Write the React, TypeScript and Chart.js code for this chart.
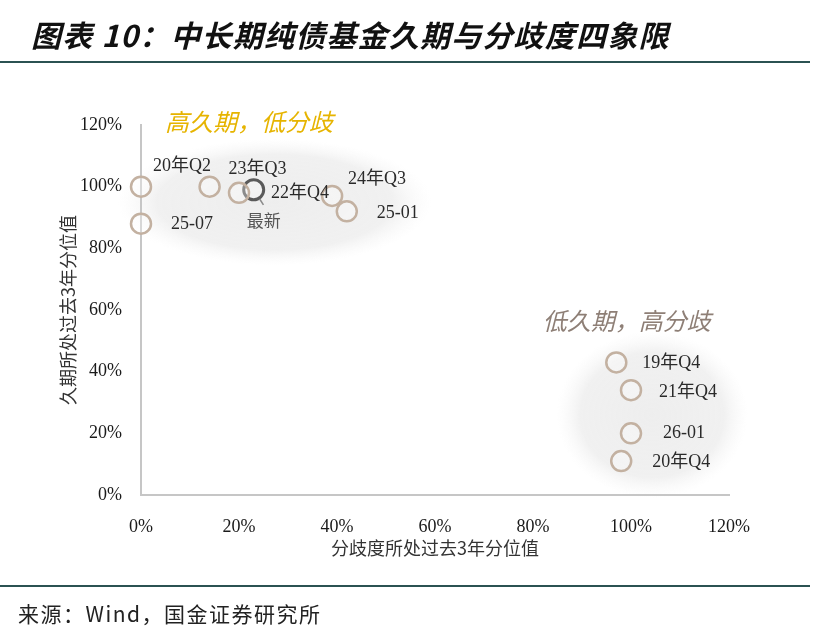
import React, { useEffect, useRef } from "react";
import { Chart, registerables } from "chart.js";

Chart.register(...registerables);

// 分歧度所处过去3年分位值 (x) / 久期所处过去3年分位值 (y), in %
const dispersionPct = [0, 14, 20, 39, 42, 0, 97, 100, 100, 98];
const durationPct = [100, 100, 98, 97, 92, 88, 43, 34, 20, 11];
const periodLabels = ["20年Q2", "23年Q3", "22年Q4", "24年Q3", "25-01", "25-07", "19年Q4", "21年Q4", "26-01", "20年Q4"];

const latestDispersion = [23];
const latestDuration = [99];
const latestLabels = ["最新"];

const tickValues = [0, 20, 40, 60, 80, 100, 120];

const quadrantTitles = ["高久期，低分歧", "低久期，高分歧"];

// label offsets in px from each marker (style only)
const labelOffsets = [
  [41, -20], [48, -17], [61, 0], [45, -17], [51, 2],
  [51, 1], [55, 1], [57, 2], [53, 0], [60, 1],
];
const latestOffsets = [[10, 31]];

// shaded zones, in axis units
const zones = [
  { cx: 27.3, cy: 95, rx: 32, ry: 20.5, tx: 4.9, ty: 121, color: "#e6b400" },
  { cx: 104.3, cy: 26, rx: 19.5, ry: 27, tx: 82, ty: 56.5, color: "#8e7f76" },
];

const SERIF = '"Liberation Serif", "Noto Sans CJK SC", serif';
const CJK = '"Noto Sans CJK SC", sans-serif';

const quadrantPlugin = {
  id: "quadrants",
  beforeDraw(chart: any) {
    const { ctx, scales } = chart;
    const x = scales.x;
    const y = scales.y;
    zones.forEach((z) => {
      const cx = x.getPixelForValue(z.cx);
      const cy = y.getPixelForValue(z.cy);
      const rx = Math.abs(x.getPixelForValue(z.cx + z.rx) - cx);
      const ry = Math.abs(y.getPixelForValue(z.cy + z.ry) - cy);
      ctx.save();
      ctx.translate(cx, cy);
      ctx.scale(rx, ry);
      const g = ctx.createRadialGradient(0, 0, 0, 0, 0, 1);
      g.addColorStop(0, "rgba(236,236,236,0.9)");
      g.addColorStop(0.75, "rgba(238,238,238,0.85)");
      g.addColorStop(1, "rgba(246,246,246,0)");
      ctx.fillStyle = g;
      ctx.beginPath();
      ctx.arc(0, 0, 1, 0, Math.PI * 2);
      ctx.fill();
      ctx.restore();
    });
  },
  afterDatasetsDraw(chart: any) {
    const { ctx, scales } = chart;
    ctx.save();
    ctx.textAlign = "center";
    ctx.textBaseline = "middle";
    ctx.font = `18px ${SERIF}`;
    ctx.fillStyle = "#2a2a2a";
    chart.getDatasetMeta(0).data.forEach((pt: any, i: number) => {
      const [dx, dy] = labelOffsets[i];
      ctx.fillText(periodLabels[i], pt.x + dx, pt.y + dy);
    });
    chart.getDatasetMeta(1).data.forEach((pt: any, i: number) => {
      const [dx, dy] = latestOffsets[i];
      ctx.font = `17px ${CJK}`;
      ctx.fillStyle = "#555";
      ctx.fillText(latestLabels[i], pt.x + dx, pt.y + dy);
      // little pointer tail
      const a = Math.atan2(14, 9);
      ctx.strokeStyle = "#8a8a8a";
      ctx.lineWidth = 1.5;
      ctx.beginPath();
      ctx.moveTo(pt.x + Math.cos(a) * 11, pt.y + Math.sin(a) * 11);
      ctx.lineTo(pt.x + Math.cos(a) * 18, pt.y + Math.sin(a) * 18);
      ctx.stroke();
    });
    ctx.textAlign = "left";
    ctx.font = `italic 24px ${CJK}`;
    zones.forEach((z, i) => {
      ctx.fillStyle = z.color;
      ctx.fillText(quadrantTitles[i], scales.x.getPixelForValue(z.tx), scales.y.getPixelForValue(z.ty));
    });
    ctx.restore();
  },
};

const QuadrantChart: React.FC = () => {
  const chartRef = useRef<HTMLCanvasElement | null>(null);
  const chartInstance = useRef<Chart | null>(null);

  useEffect(() => {
    if (!chartRef.current) return;
    const ctx = chartRef.current.getContext("2d");
    if (!ctx) return;

    const setTicks = (s: any) => {
      s.ticks = tickValues.map((v) => ({ value: v }));
    };

    chartInstance.current = new Chart(ctx, {
      type: "scatter",
      data: {
        datasets: [
          {
            label: "历史",
            data: dispersionPct.map((v, i) => ({ x: v, y: durationPct[i] })),
            pointRadius: 10,
            pointBorderWidth: 2.5,
            pointBorderColor: "#c3b1a1",
            pointBackgroundColor: "rgba(255,255,255,0.3)",
            clip: false as any,
          },
          {
            label: "最新",
            data: latestDispersion.map((v, i) => ({ x: v, y: latestDuration[i] })),
            pointRadius: 10,
            pointBorderWidth: 3,
            pointBorderColor: "#5a5a5a",
            pointBackgroundColor: "rgba(255,255,255,0.2)",
            clip: false as any,
          },
        ],
      },
      options: {
        animation: false,
        responsive: false,
        layout: { padding: { top: 125, right: 98, bottom: 65, left: 0 } },
        plugins: {
          legend: { display: false },
          tooltip: { enabled: false },
        },
        scales: {
          x: {
            type: "linear",
            min: 0,
            max: 120,
            afterBuildTicks: setTicks,
            afterFit: (s: any) => {
              s.height = 80;
            },
            grid: { display: false },
            border: { color: "#c6c6c6", width: 2 },
            ticks: {
              padding: 13,
              color: "#1a1a1a",
              font: { family: SERIF, size: 18 },
              callback: (v: any) => `${v}%`,
            },
            title: {
              display: true,
              text: "分歧度所处过去3年分位值",
              color: "#333",
              font: { family: CJK, size: 18 },
              padding: { top: 0, bottom: 16 },
            },
          },
          y: {
            type: "linear",
            min: 0,
            max: 120,
            afterBuildTicks: setTicks,
            afterFit: (s: any) => {
              s.width = 141;
            },
            grid: { display: false },
            border: { color: "#c6c6c6", width: 2 },
            ticks: {
              padding: 11,
              color: "#1a1a1a",
              font: { family: SERIF, size: 18 },
              callback: (v: any) => `${v}%`,
            },
            title: {
              display: true,
              text: "久期所处过去3年分位值",
              color: "#333",
              font: { family: CJK, size: 18 },
              padding: { top: 57, bottom: 0 },
            },
          },
        },
      },
      plugins: [quadrantPlugin],
    });

    return () => {
      if (chartInstance.current) {
        chartInstance.current.destroy();
        chartInstance.current = null;
      }
    };
  }, []);

  return <canvas ref={chartRef} width={827} height={640} style={{ position: "absolute", left: 0, top: 0 }} />;
};

export default function App() {
  return (
    <div style={{ position: "absolute", left: 0, top: 0, width: 827, height: 640, background: "#fff", overflow: "hidden" }}>
      <QuadrantChart />
      <div
        style={{
          position: "absolute",
          left: 31,
          top: 12,
          fontFamily: CJK,
          fontWeight: "bold",
          fontStyle: "italic",
          fontSize: 30,
          letterSpacing: 1.2,
          color: "#111",
          whiteSpace: "nowrap",
        }}
      >
        图表 10：中长期纯债基金久期与分歧度四象限
      </div>
      <div style={{ position: "absolute", left: 0, top: 61, width: 810, height: 2, background: "#2b5252" }} />
      <div style={{ position: "absolute", left: 0, top: 585, width: 810, height: 2, background: "#2b5252" }} />
      <div
        style={{
          position: "absolute",
          left: 18,
          top: 598,
          fontFamily: CJK,
          fontSize: 21,
          letterSpacing: 1.5,
          color: "#222",
          whiteSpace: "nowrap",
        }}
      >
        来源：Wind，国金证券研究所
      </div>
    </div>
  );
}
